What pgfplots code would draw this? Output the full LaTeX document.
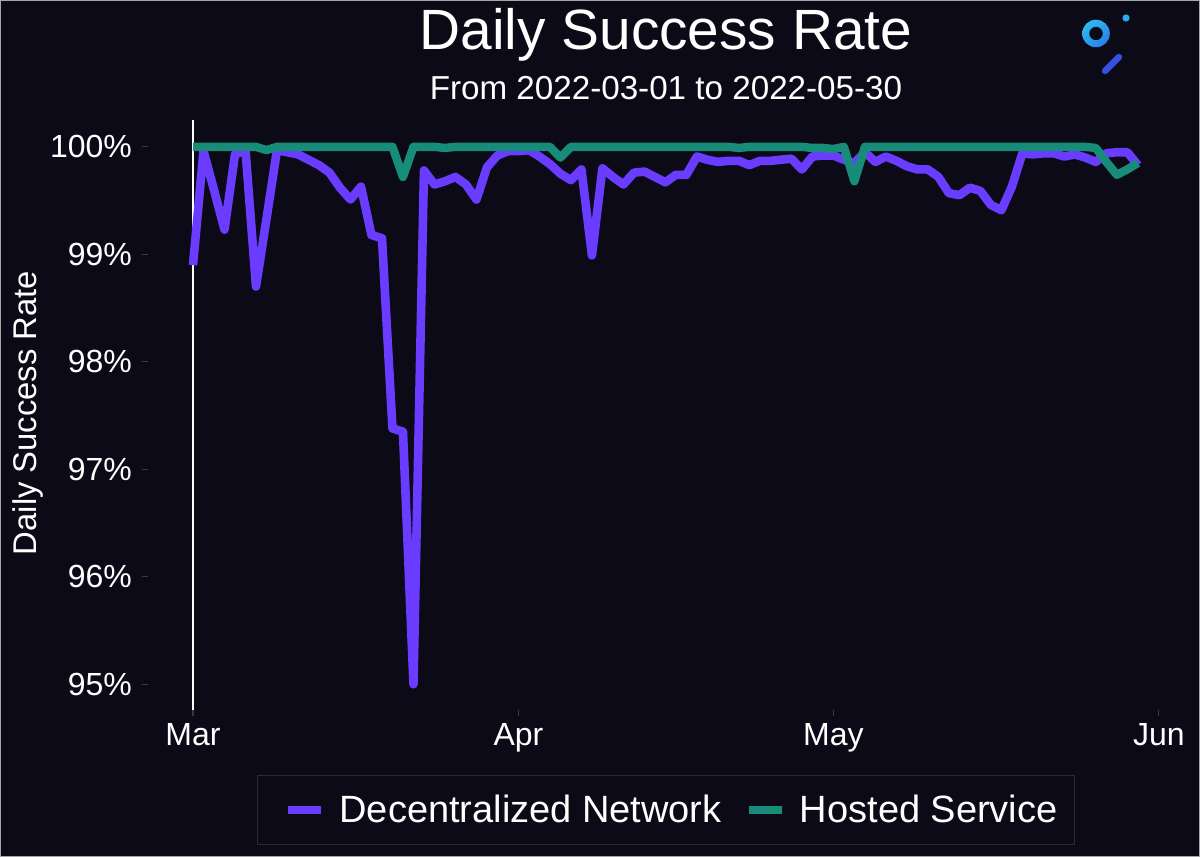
\documentclass[border=0pt]{standalone}
\usepackage{fontspec}
\setmainfont{Liberation Sans}
\usepackage{pgfplots}
\pgfplotsset{compat=1.18}
\usepackage{pgfplotstable}
\usetikzlibrary{shadings}
\definecolor{bg}{HTML}{0B0A16}
\definecolor{dnet}{HTML}{6A3CFF}
\definecolor{hsvc}{HTML}{178C79}
\definecolor{legbd}{HTML}{2A2A30}
\definecolor{tickc}{HTML}{3A3A40}
\definecolor{logoA}{HTML}{2CC3F2}
\definecolor{logoB}{HTML}{2A72E6}
\definecolor{logoC}{HTML}{3550E0}

\pgfplotstableread{
d v
0 98.90
1 99.96
2 99.60
3 99.23
4 99.93
5 99.97
6 98.70
7 99.33
8 99.97
9 99.95
10 99.93
11 99.88
12 99.83
13 99.76
14 99.62
15 99.51
16 99.63
17 99.18
18 99.15
19 97.38
20 97.35
21 95.00
22 99.78
23 99.65
24 99.68
25 99.72
26 99.65
27 99.51
28 99.81
29 99.92
30 99.96
31 99.96
32 99.97
33 99.91
34 99.84
35 99.75
36 99.69
37 99.79
38 98.99
39 99.80
40 99.72
41 99.65
42 99.76
43 99.77
44 99.72
45 99.67
46 99.74
47 99.74
48 99.91
49 99.88
50 99.86
51 99.87
52 99.87
53 99.83
54 99.87
55 99.87
56 99.88
57 99.89
58 99.79
59 99.91
60 99.92
61 99.92
62 99.88
63 99.85
64 99.95
65 99.86
66 99.91
67 99.87
68 99.82
69 99.79
70 99.79
71 99.72
72 99.57
73 99.55
74 99.62
75 99.59
76 99.46
77 99.41
78 99.63
79 99.94
80 99.93
81 99.94
82 99.94
83 99.91
84 99.93
85 99.90
86 99.86
87 99.94
88 99.95
89 99.95
90 99.83
}\dnettable

\pgfplotstableread{
d v
0 100.00
1 100.00
2 100.00
3 100.00
4 100.00
5 100.00
6 100.00
7 99.97
8 100.00
9 100.00
10 100.00
11 100.00
12 100.00
13 100.00
14 100.00
15 100.00
16 100.00
17 100.00
18 100.00
19 100.00
20 99.72
21 100.00
22 100.00
23 100.00
24 99.99
25 100.00
26 100.00
27 100.00
28 100.00
29 100.00
30 100.00
31 100.00
32 100.00
33 100.00
34 100.00
35 99.90
36 100.00
37 100.00
38 100.00
39 100.00
40 100.00
41 100.00
42 100.00
43 100.00
44 100.00
45 100.00
46 100.00
47 100.00
48 100.00
49 100.00
50 100.00
51 100.00
52 99.99
53 100.00
54 100.00
55 100.00
56 100.00
57 100.00
58 100.00
59 99.99
60 99.99
61 99.98
62 100.00
63 99.68
64 100.00
65 100.00
66 100.00
67 100.00
68 100.00
69 100.00
70 100.00
71 100.00
72 100.00
73 100.00
74 100.00
75 100.00
76 100.00
77 100.00
78 100.00
79 100.00
80 100.00
81 100.00
82 100.00
83 100.00
84 100.00
85 100.00
86 99.99
87 99.86
88 99.74
89 99.79
90 99.85
}\hsvctable

\begin{document}
\begin{tikzpicture}
\fill[bg] (0,0) rectangle (600pt,428.5pt);
\draw[gray!70, line width=0.6pt] (0.3pt,0.3pt) rectangle (599.7pt,428.2pt);

\node[white, font=\fontsize{28.4}{32}\selectfont] at (333pt,411pt) {Daily Success Rate};
\node[white, font=\fontsize{16.6}{19}\selectfont] at (333pt,384.5pt) {From 2022-03-01 to 2022-05-30};
\node[white, rotate=90, font=\fontsize{16.4}{19}\selectfont] at (14pt,222pt) {Daily Success Rate};

% logo
\shade[upper left=logoA, upper right=logoA!60!logoB, lower left=logoA!50!logoB, lower right=logoB, even odd rule]
  (548pt,411.75pt) circle (6.9pt) (548pt,411.75pt) circle (3.4pt);
\fill[logoA!70!logoB] (563pt,419.5pt) circle (1.8pt);
\draw[line width=3.2pt, line cap=round, color=logoC] (552.5pt,393pt) -- (559.5pt,400pt);

\begin{axis}[
  at={(96.5pt,73.5pt)}, anchor=south west,
  scale only axis, width=484.5pt, height=295pt,
  xmin=0, xmax=92.3, ymin=94.76, ymax=100.25,
  axis lines*=left,
  x axis line style={draw=none},
  y axis line style={draw=white, line width=1pt},
  xtick={0,31,61,92}, xticklabels={Mar,Apr,May,Jun},
  ytick={95,96,97,98,99,100},
  yticklabels={95\%,96\%,97\%,98\%,99\%,100\%},
  tick align=outside,
  major tick length=3pt,
  tick style={draw=tickc, line width=0.6pt},
  ytick style={xshift=-22.5pt},
  ticklabel style={text=white, font=\fontsize{16}{19}\selectfont},
  xticklabel style={yshift=0pt},
  yticklabel style={xshift=-24pt},
  legend columns=2,
  legend style={at={(0.488,-0.1695)}, anchor=center, draw=legbd, fill=bg,
    text=white, font=\fontsize{19}{22}\selectfont,
    inner xsep=6.5pt, inner ysep=7.5pt,
    /tikz/every odd column/.append style={column sep=5pt},
    /tikz/every even column/.append style={column sep=2.5pt}},
  legend image code/.code={\path (0pt,0pt); \draw[#1, line width=4pt] (7pt,0pt) -- (23.5pt,0pt);},
  clip=false,
]
\addplot[dnet, line width=4.3pt, line join=round] table[x=d, y=v] {\dnettable};
\addlegendentry{Decentralized Network}
\addplot[hsvc, line width=4.2pt, line join=round] table[x=d, y=v] {\hsvctable};
\addlegendentry{Hosted Service}
\end{axis}
\end{tikzpicture}
\end{document}
